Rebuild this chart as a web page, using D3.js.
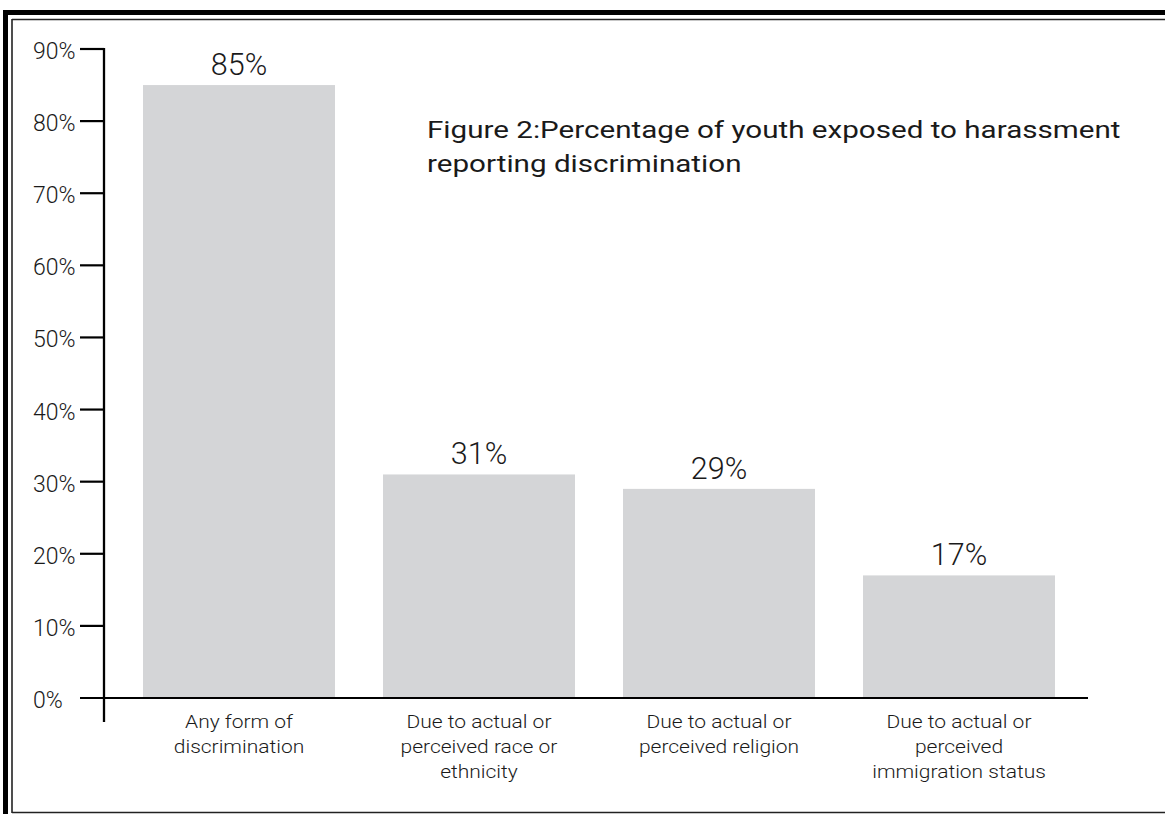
<!DOCTYPE html>
<html>
<head>
<meta charset="utf-8">
<script src="https://cdn.jsdelivr.net/npm/d3@7"></script>
<style>
  html, body { margin: 0; padding: 0; background: #fff; }
  svg { display: block; }
  text { font-family: Roboto, "Noto Sans", sans-serif; fill: #1a1a1a; }
</style>
</head>
<body>
<svg id="chart" width="1165" height="814"></svg>
<script>
// Share of harassed youth reporting each kind of discrimination
const categories = [
  ["Any form of", "discrimination"],
  ["Due to actual or", "perceived race or", "ethnicity"],
  ["Due to actual or", "perceived religion"],
  ["Due to actual or", "perceived", "immigration status"]
];
const values = [85, 31, 29, 17];
const valueLabels = ["85%", "31%", "29%", "17%"];
const yTicks = [0, 10, 20, 30, 40, 50, 60, 70, 80, 90];
const titleLines = [
  "Figure 2:Percentage of youth exposed to harassment",
  "reporting discrimination"
];

const svg = d3.select("#chart");

// Frame: heavy outer rule on the left and top, thin inner rule
svg.append("rect").attr("x", 3).attr("y", 10).attr("width", 5).attr("height", 804).attr("fill", "#000");
svg.append("rect").attr("x", 3).attr("y", 10).attr("width", 1162).attr("height", 5).attr("fill", "#000");
svg.append("line").attr("x1", 12).attr("x2", 12).attr("y1", 19).attr("y2", 813)
  .attr("stroke", "#222").attr("stroke-width", 1.6);
svg.append("line").attr("x1", 12).attr("x2", 1165).attr("y1", 19.5).attr("y2", 19.5)
  .attr("stroke", "#222").attr("stroke-width", 1.6);
svg.append("line").attr("x1", 12).attr("x2", 1165).attr("y1", 812.5).attr("y2", 812.5)
  .attr("stroke", "#222").attr("stroke-width", 1.4);

const x = d3.scaleBand()
  .domain(d3.range(values.length))
  .range([119, 1079])
  .paddingInner(0.2)
  .paddingOuter(0.1);

const y = d3.scaleLinear().domain([0, 90]).range([698, 49]);

// Bars
svg.append("g").selectAll("rect")
  .data(values)
  .join("rect")
  .attr("x", (d, i) => x(i))
  .attr("y", d => y(d))
  .attr("width", x.bandwidth())
  .attr("height", d => y(0) - y(d))
  .attr("fill", "#d4d5d7");

// Value labels above the bars
svg.append("g").selectAll("text")
  .data(values)
  .join("text")
  .attr("x", (d, i) => x(i) + x.bandwidth() / 2)
  .attr("y", d => y(d) - 10)
  .attr("text-anchor", "middle")
  .attr("font-size", 30.5)
  .attr("font-weight", 300)
  .text((d, i) => valueLabels[i]);

// Y axis: vertical rule, ticks and left-aligned labels
const axisY = svg.append("g");
axisY.append("line")
  .attr("x1", 104).attr("x2", 104)
  .attr("y1", y(90) - 1).attr("y2", 722)
  .attr("stroke", "#000").attr("stroke-width", 2.3);
axisY.selectAll("line.tick")
  .data(yTicks.filter(t => t > 0))
  .join("line")
  .attr("class", "tick")
  .attr("x1", 80).attr("x2", 104)
  .attr("y1", d => y(d)).attr("y2", d => y(d))
  .attr("stroke", "#000").attr("stroke-width", 2.2);
axisY.selectAll("text")
  .data(yTicks)
  .join("text")
  .attr("x", 33)
  .attr("y", d => y(d) + 10)
  .attr("font-size", 23)
  .attr("font-weight", 300)
  .text(d => d + "%");

// X axis baseline
svg.append("line")
  .attr("x1", 80).attr("x2", 1088)
  .attr("y1", y(0)).attr("y2", y(0))
  .attr("stroke", "#000").attr("stroke-width", 2.2);

// Category labels, wrapped as given, set in a slightly extended face
const cat = svg.append("g").selectAll("text")
  .data(categories)
  .join("text")
  .attr("transform", (d, i) => `translate(${x(i) + x.bandwidth() / 2},0) scale(1.2,1)`)
  .attr("text-anchor", "middle")
  .attr("font-size", 17.5)
  .attr("font-weight", 300);
cat.selectAll("tspan")
  .data(d => d)
  .join("tspan")
  .attr("x", 0)
  .attr("y", (d, j) => 728 + j * 25)
  .text(d => d);

// Title
svg.append("g").selectAll("text")
  .data(titleLines)
  .join("text")
  .attr("transform", (d, i) => `translate(427,${138 + i * 34}) scale(1.26,1)`)
  .attr("font-size", 23.5)
  .attr("font-weight", 400)
  .text(d => d);
</script>
</body>
</html>
